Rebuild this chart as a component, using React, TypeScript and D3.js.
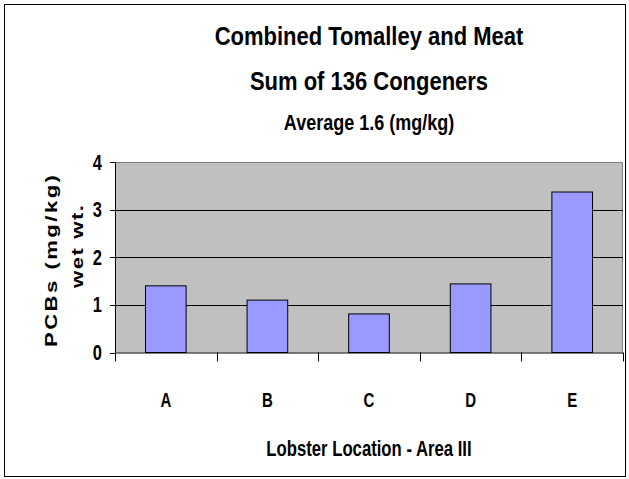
import React from "react";
import * as d3 from "d3";

const categories = ["A", "B", "C", "D", "E"];
const values = [1.4, 1.1, 0.81, 1.44, 3.37];
const yTicks = [0, 1, 2, 3, 4];
const titleLines = ["Combined Tomalley and Meat", "Sum of 136 Congeners"];
const subtitle = "Average 1.6 (mg/kg)";
const xTitle = "Lobster Location - Area III";
const yTitleLines = ["PCBs (mg/kg)", "wet wt."];

const W = 629;
const H = 479;
const plot = { left: 115, right: 623, top: 162, bottom: 352.5 };
const FONT = "'Liberation Sans', Arial, sans-serif";

type STProps = {
  x: number;
  y: number;
  size: number;
  sx?: number;
  sy?: number;
  rotate?: number;
  anchor?: string;
  spacing?: number;
  children: React.ReactNode;
};

function SText({ x, y, size, sx = 1, sy = 1, rotate = 0, anchor = "middle", spacing, children }: STProps) {
  return (
    <text
      transform={`translate(${x},${y}) rotate(${rotate}) scale(${sx},${sy})`}
      textAnchor={anchor}
      fontSize={size}
      fontWeight="bold"
      letterSpacing={spacing}
    >
      {children}
    </text>
  );
}

export default function App() {
  const x = d3
    .scaleBand<string>()
    .domain(categories)
    .range([plot.left, plot.right])
    .paddingInner(0.6)
    .paddingOuter(0.3);
  const xOuter = d3.scaleBand<string>().domain(categories).range([plot.left, plot.right]);
  const y = d3.scaleLinear().domain([0, 4]).range([plot.bottom, plot.top]);
  const cx = (plot.left + plot.right) / 2;

  return (
    <svg
      width={W}
      height={H}
      style={{ position: "absolute", left: 0, top: 0, background: "#fff" }}
      fontFamily={FONT}
    >
      <rect x={4.5} y={4.5} width={621} height={472} fill="#fff" stroke="#000" strokeWidth={1} />
      {/* plot background */}
      <rect
        x={plot.left}
        y={plot.top}
        width={plot.right - plot.left}
        height={plot.bottom - plot.top}
        fill="#C0C0C0"
      />
      <path
        d={`M${plot.left},${plot.top + 0.5}H${plot.right - 0.5}V${plot.bottom}`}
        fill="none"
        stroke="#808080"
        strokeWidth={1}
      />
      {yTicks
        .filter((t) => t > 0 && t < 4)
        .map((t) => (
          <line
            key={"g" + t}
            x1={plot.left}
            x2={plot.right}
            y1={Math.round(y(t)) + 0.5}
            y2={Math.round(y(t)) + 0.5}
            stroke="#000"
            strokeWidth={1}
          />
        ))}
      {/* bars */}
      {categories.map((c, i) => (
        <rect
          key={c}
          x={x(c)}
          y={y(values[i])}
          width={x.bandwidth()}
          height={y(0) - y(values[i])}
          fill="#9999FF"
          stroke="#000"
          strokeWidth={1}
        />
      ))}
      {/* axes */}
      <line x1={plot.left + 0.5} x2={plot.left + 0.5} y1={plot.top} y2={plot.bottom} stroke="#000" />
      <line x1={plot.left} x2={plot.right} y1={plot.bottom + 0.5} y2={plot.bottom + 0.5} stroke="#000" />
      {yTicks.map((t) => (
        <g key={"yt" + t}>
          <line
            x1={plot.left - 5}
            x2={plot.left}
            y1={Math.round(y(t)) + 0.5}
            y2={Math.round(y(t)) + 0.5}
            stroke="#000"
          />
          <SText x={102} y={y(t) + 7.5} size={16.5} sy={1.3} anchor="end">
            {t}
          </SText>
        </g>
      ))}
      {[...categories.map((c) => xOuter(c) as number), plot.right].map((v, i) => (
        <line
          key={"xt" + i}
          x1={Math.round(v) + 0.5}
          x2={Math.round(v) + 0.5}
          y1={plot.bottom}
          y2={plot.bottom + 9}
          stroke="#000"
        />
      ))}
      {categories.map((c) => (
        <SText
          key={"xl" + c}
          x={(xOuter(c) as number) + xOuter.bandwidth() / 2}
          y={406.5}
          size={15}
          sy={1.3}
        >
          {c}
        </SText>
      ))}
      {/* titles */}
      <SText x={cx} y={45} size={22} sy={1.2}>
        {titleLines[0]}
      </SText>
      <SText x={cx} y={90} size={22} sy={1.2}>
        {titleLines[1]}
      </SText>
      <SText x={cx} y={130} size={18} sy={1.2}>
        {subtitle}
      </SText>
      <SText x={cx} y={456} size={16.7} sy={1.35}>
        {xTitle}
      </SText>
      {/* y title */}
      <SText x={57} y={347} size={17} sx={1.3} rotate={-90} anchor="start" spacing={1.9}>
        {yTitleLines[0]}
      </SText>
      <SText x={83} y={288} size={17} sx={1.3} rotate={-90} anchor="start" spacing={1.2}>
        {yTitleLines[1]}
      </SText>
    </svg>
  );
}
